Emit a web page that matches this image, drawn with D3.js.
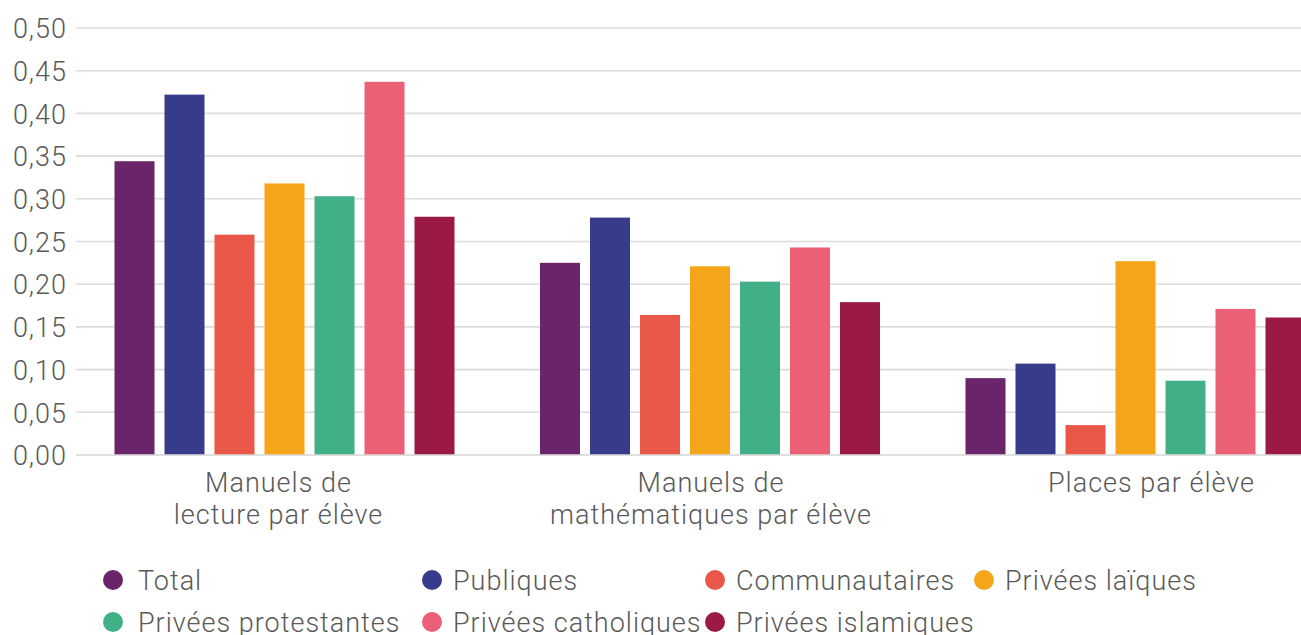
<!DOCTYPE html>
<html>
<head>
<meta charset="utf-8">
<script src="https://cdn.jsdelivr.net/npm/d3@7/dist/d3.min.js"></script>
<style>
  html, body { margin: 0; padding: 0; background: #ffffff; }
  svg { display: block; overflow: hidden; }
  text { font-family: Roboto, "Liberation Sans", sans-serif; font-weight: 300; fill: #595959; letter-spacing: 1px; }
</style>
</head>
<body>
<svg id="chart" width="1301" height="635"></svg>
<script>
// Indicateurs par élève selon le type d'école
const categories = [
  ["Manuels de", "lecture par élève"],
  ["Manuels de", "mathématiques par élève"],
  ["Places par élève"]
];
const seriesNames = [
  "Total", "Publiques", "Communautaires", "Privées laïques",
  "Privées protestantes", "Privées catholiques", "Privées islamiques"
];
const totalValues       = [0.344, 0.225, 0.090];
const publiquesValues   = [0.422, 0.278, 0.107];
const communautValues   = [0.258, 0.164, 0.035];
const laiquesValues     = [0.318, 0.221, 0.227];
const protestantValues  = [0.303, 0.203, 0.087];
const catholiqueValues  = [0.437, 0.243, 0.171];
const islamiqueValues   = [0.279, 0.179, 0.161];
const yTicks = [0, 0.05, 0.10, 0.15, 0.20, 0.25, 0.30, 0.35, 0.40, 0.45, 0.50];
const seriesColors = ["#6a2469", "#363b8a", "#e85748", "#f5a51a", "#42b087", "#eb5f77", "#9a1a45"];

const seriesValues = [totalValues, publiquesValues, communautValues, laiquesValues,
                      protestantValues, catholiqueValues, islamiqueValues];
const catKeys = categories.map(c => c.join(" "));

const svg = d3.select("#chart");
const W = 1301;
const gridLeft = 76;

const y = d3.scaleLinear().domain([0, 0.5]).range([455, 28]);
const x0 = d3.scaleBand().domain(catKeys).range([71.75, 1348.25]);
const barSpan = 350;
const x1 = d3.scaleBand().domain(seriesNames)
  .range([(x0.bandwidth() - barSpan) / 2, (x0.bandwidth() + barSpan) / 2])
  .paddingInner(0.2).paddingOuter(0.1);

// horizontal gridlines
svg.append("g").selectAll("line").data(yTicks).join("line")
  .attr("x1", gridLeft).attr("x2", W)
  .attr("y1", d => y(d)).attr("y2", d => y(d))
  .attr("stroke", "#dcdcdc").attr("stroke-width", 1.6);

// y axis labels
const fmt = d => d.toFixed(2).replace(".", ",");
const yAxis = d3.axisLeft(y).tickValues(yTicks).tickFormat(fmt).tickSize(0).tickPadding(0);
const gy = svg.append("g").attr("transform", "translate(67,0)").call(yAxis);
gy.select(".domain").remove();
gy.attr("font-family", null).attr("font-size", null);
gy.selectAll("text")
  .style("font-size", "27px").attr("dy", "0.36em");

// bars
const groups = svg.append("g").selectAll("g").data(catKeys).join("g")
  .attr("transform", d => `translate(${x0(d)},0)`);
groups.selectAll("rect")
  .data((d, i) => seriesNames.map((s, j) => ({ s, v: seriesValues[j][i], c: seriesColors[j] })))
  .join("rect")
  .attr("x", d => x1(d.s))
  .attr("width", x1.bandwidth())
  .attr("y", d => y(d.v))
  .attr("height", d => y(0) - y(d.v))
  .attr("fill", d => d.c);

// baseline
svg.append("line").attr("x1", gridLeft).attr("x2", W)
  .attr("y1", y(0)).attr("y2", y(0))
  .attr("stroke", "#dcdcdc").attr("stroke-width", 1.6);

// category labels (wrapped, slightly shifted like the source layout)
const labelShift = [-6, 1, 16];
const catLabels = svg.append("g").selectAll("text").data(categories).join("text")
  .attr("x", (d, i) => x0(catKeys[i]) + x0.bandwidth() / 2 + labelShift[i])
  .attr("y", 492)
  .attr("text-anchor", "middle")
  .style("font-size", "27px");
catLabels.selectAll("tspan").data(d => d).join("tspan")
  .attr("x", function () { return d3.select(this.parentNode).attr("x"); })
  .attr("dy", (d, i) => i === 0 ? 0 : 32)
  .text(d => d);

// legend
const legendCols = [113, 432, 715, 984];
const legendRows = [580, 622];
const perRow = 4;
const legend = svg.append("g").selectAll("g").data(seriesNames).join("g")
  .attr("transform", (d, i) => `translate(${legendCols[i % perRow]},${legendRows[Math.floor(i / perRow)]})`);
legend.append("circle").attr("r", 10).attr("fill", (d, i) => seriesColors[i]);
legend.append("text")
  .attr("x", (d, i) => (i % perRow) === 0 ? 25 : 21)
  .attr("dy", "0.36em")
  .style("font-size", "27px")
  .text(d => d);
</script>
</body>
</html>
